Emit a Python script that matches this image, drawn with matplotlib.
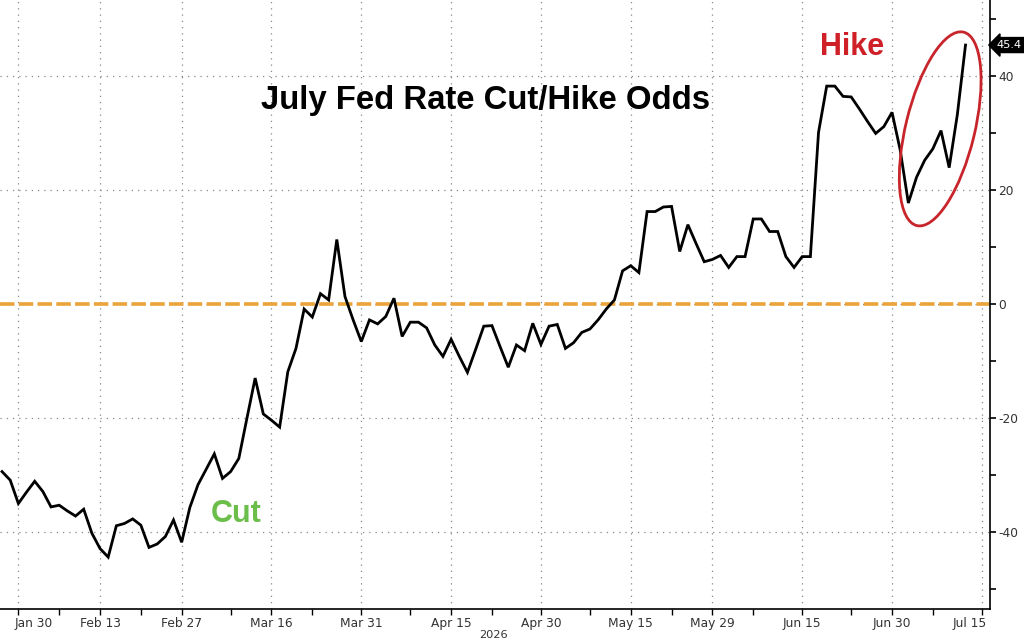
import numpy as np
import pandas as pd
import matplotlib
matplotlib.use("Agg")
import matplotlib.pyplot as plt
import matplotlib.transforms as mtransforms
from matplotlib.patches import Ellipse

plt.rcParams['font.family'] = ['DejaVu Sans']

# weekday series, Jan 28 2026 .. Jul 13 2026
start_date = '2026-01-28'
end_date = '2026-07-13'
axis_end_date = '2026-07-15'

odds = [
    -29.4, -30.9, -35.0,
    -33.0, -31.1, -32.9, -35.6, -35.3, -36.3, -37.2, -36.0, -40.2, -42.9,
    -44.4, -38.9, -38.5, -37.7, -38.8, -42.7, -42.1, -40.8, -37.9, -41.8,
    -35.7, -31.7, -29.0, -26.3, -30.6, -29.4, -27.1, -20.0, -13.0, -19.3,
    -20.4, -21.6, -11.9, -7.8, -0.9, -2.3, 1.8, 0.7, 11.3, 1.3, -2.8, -6.6,
    -2.8, -3.5, -2.2, 1.0, -5.7, -3.2, -3.2, -4.2, -7.2, -9.2, -6.2, -9.2,
    -12.0, -8.0, -3.9, -3.8, -7.5, -11.1, -7.2, -8.2, -3.4, -7.1,
    -3.9, -3.6, -7.8, -6.8, -5.0, -4.4, -2.8, -0.9, 0.7, 5.8, 6.7, 5.5,
    16.2, 16.2, 17.0, 17.1, 9.2, 13.9, 10.6, 7.4, 7.8,
    8.5, 6.4, 8.3, 8.3, 14.9, 14.9, 12.7, 12.7, 8.3, 6.4, 8.3, 8.3, 30.1,
    38.2, 38.2, 36.4, 36.3, 34.2, 32.0, 29.9, 31.1, 33.6,
    27.0, 17.7, 22.2, 25.2, 27.2, 30.4, 23.9, 33.2, 45.4,
]

tick_dates = ['2026-01-30', '2026-02-13', '2026-02-27', '2026-03-16', '2026-03-31',
              '2026-04-15', '2026-04-30', '2026-05-15', '2026-05-29', '2026-06-15',
              '2026-06-30', '2026-07-15']
tick_labels = ['Jan 30', 'Feb 13', 'Feb 27', 'Mar 16', 'Mar 31', 'Apr 15',
               'Apr 30', 'May 15', 'May 29', 'Jun 15', 'Jun 30', 'Jul 15']
y_major = [-40, -20, 0, 20, 40]
y_minor = [-50, -30, -10, 10, 30, 50]

days = pd.bdate_range(start_date, end_date)
all_days = pd.bdate_range(start_date, axis_end_date)
x = np.arange(len(days))
tick_pos = all_days.get_indexer(pd.to_datetime(tick_dates))
minor_pos = ((tick_pos[:-1] + tick_pos[1:]) / 2).round()

fig = plt.figure(figsize=(10.24, 6.4), dpi=100)
ax = fig.add_axes([0, 31 / 640, 990 / 1024, 609 / 640])

ax.set_xlim(-0.25, 121.0)
ax.set_ylim(-53.5, 53.3)

for s in ['top', 'left']:
    ax.spines[s].set_visible(False)
ax.spines['bottom'].set_linewidth(1.2)
ax.spines['right'].set_linewidth(1.2)

ax.set_xticks(tick_pos)
ax.set_xticklabels(tick_labels)
ax.set_xticks(minor_pos, minor=True)
ax.yaxis.tick_right()
ax.set_yticks(y_major)
ax.set_yticklabels([str(v) for v in y_major])
ax.set_yticks(y_minor, minor=True)
ax.tick_params(axis='x', which='both', direction='out', length=4, width=1,
               labelsize=8.8, labelcolor='#333333', pad=2)
ax.tick_params(axis='y', which='both', direction='out', length=4, width=1.2,
               labelsize=8.8, labelcolor='#333333', pad=2)

# edge labels kept inside the picture, like the original
xlabels = ax.get_xticklabels()
xlabels[0].set_ha('left')
xlabels[0].set_transform(xlabels[0].get_transform() +
                         mtransforms.ScaledTranslation(-0.04, 0, fig.dpi_scale_trans))
xlabels[-1].set_ha('right')
xlabels[-1].set_transform(xlabels[-1].get_transform() +
                          mtransforms.ScaledTranslation(0.05, 0, fig.dpi_scale_trans))

ax.grid(True, which='major', color='#888888', linestyle=(0, (1, 4)), linewidth=0.9)

ax.axhline(0, color='#EBA43A', linewidth=2.6, linestyle=(0, (4, 1.2)), zorder=2)
ax.plot(x, odds, color='black', linewidth=2.0, zorder=3, solid_joinstyle='miter')

ax.text(0.498, -0.043, '2026', transform=ax.transAxes, ha='center', va='center',
        fontsize=8.2, color='#333333')

# last value tag
ax.annotate('%.1f' % odds[-1], xy=(1.0, odds[-1]), xycoords=('axes fraction', 'data'),
            xytext=(5, 0), textcoords='offset points', ha='left', va='center',
            fontsize=8.2, color='white',
            bbox=dict(boxstyle='larrow,pad=0.22', fc='black', ec='black'))

fig.text(486 / 1024, 1 - 109.5 / 640, 'July Fed Rate Cut/Hike Odds', ha='center',
         va='baseline', fontsize=23.7, fontweight='bold', family='Liberation Sans')
fig.text(236 / 1024, 1 - 521.5 / 640, 'Cut', ha='center', va='baseline',
         fontsize=22, fontweight='bold', family='Liberation Sans', color='#6CBE4A')
fig.text(852 / 1024, 1 - 55 / 640, 'Hike', ha='center', va='baseline',
         fontsize=22, fontweight='bold', family='Liberation Sans', color='#CF2027')

# red ellipse around the recent jump
trans = fig.dpi_scale_trans + mtransforms.ScaledTranslation(114.9, 30.7, ax.transData)
ell = Ellipse((0, 0), 1.99, 0.69, angle=76.4, transform=trans, fill=False,
              edgecolor='#C8242B', linewidth=2.0, zorder=4)
ax.add_patch(ell)

fig.savefig('out.png', dpi=100)
